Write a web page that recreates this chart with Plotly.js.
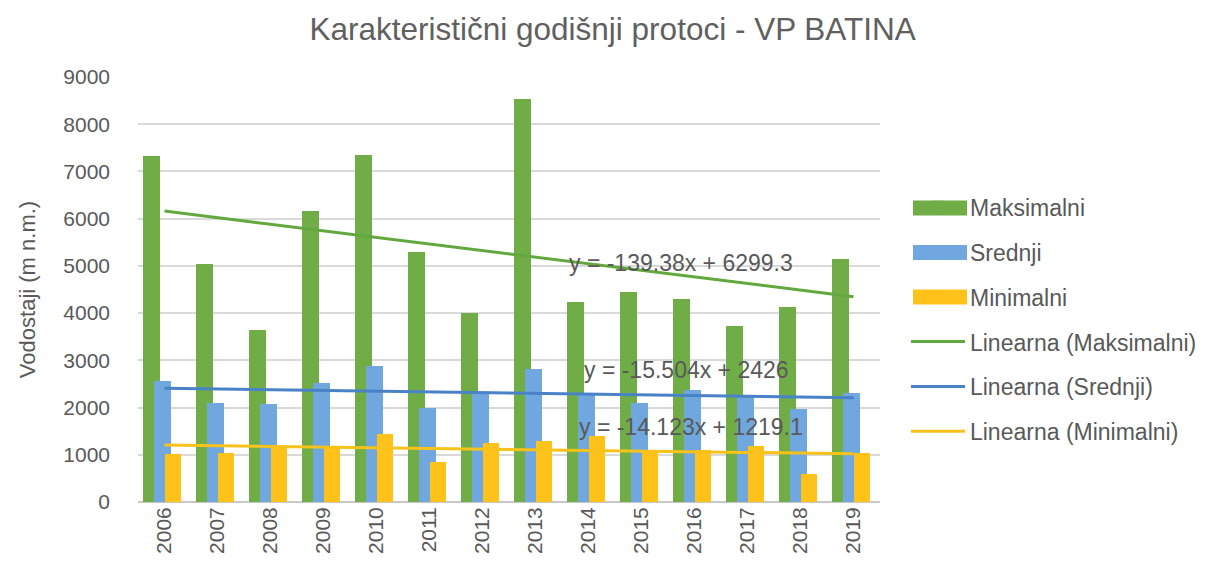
<!DOCTYPE html>
<html>
<head>
<meta charset="utf-8">
<script src="https://cdn.plot.ly/plotly-3.0.1.min.js"></script>
<style>html,body{margin:0;padding:0;background:#fff;}#chart{width:1206px;height:571px;}</style>
</head>
<body>
<div id="chart"></div>
<script>
const years = ['2006','2007','2008','2009','2010','2011','2012','2013','2014','2015','2016','2017','2018','2019'];
const maksimalni = [7320, 5040, 3650, 6170, 7350, 5290, 4000, 8530, 4240, 4450, 4290, 3730, 4140, 5140];
const srednji    = [2570, 2100, 2070, 2520, 2880, 1990, 2300, 2810, 2300, 2090, 2380, 2230, 1960, 2310];
const minimalni  = [1010, 1030, 1180, 1180, 1430, 850, 1240, 1290, 1390, 1100, 1110, 1180, 590, 1040];
const seriesNames = ['Maksimalni', 'Srednji', 'Minimalni'];
const trendNames = ['Linearna (Maksimalni)', 'Linearna (Srednji)', 'Linearna (Minimalni)'];
const trendSlope = [-139.38, -15.504, -14.123];
const trendIntercept = [6299.3, 2426, 1219.1];
const equationLabels = ['y = -139.38x + 6299.3', 'y = -15.504x + 2426', 'y = -14.123x + 1219.1'];
const titleText = 'Karakteristični godišnji protoci - VP BATINA';
const yTitle = 'Vodostaji (m n.m.)';

const barColors = ['#70ad47', '#6fa7de', '#ffc21a'];
const lineColors = ['#62a83e', '#4a82c8', '#f7c21a'];
const barOffsets = [-0.41, -0.2, 0.0];
const barWidth = 0.32;
const values = [maksimalni, srednji, minimalni];
const FONT = '"Liberation Sans", Arial, sans-serif';
const GRAY = '#595959';

const traces = [];
values.forEach((v, i) => {
  traces.push({
    type: 'bar', x: years, y: v, name: seriesNames[i],
    marker: {color: barColors[i]},
    offset: barOffsets[i], width: barWidth,
    legendgroup: 'g' + i, hoverinfo: 'x+y+name'
  });
});
trendSlope.forEach((a, i) => {
  const b = trendIntercept[i];
  traces.push({
    type: 'scatter', mode: 'lines',
    x: [years[0], years[years.length - 1]],
    y: [a * 1 + b, a * years.length + b],
    name: trendNames[i],
    line: {color: lineColors[i], width: 3},
    legendgroup: 't' + i
  });
});

const annotations = equationLabels.map((t, i) => ({
  text: t, xref: 'x', yref: 'y',
  x: [9.74, 9.84, 9.93][i], y: [5060, 2790, 1580][i],
  showarrow: false, font: {family: FONT, size: 23, color: GRAY}
}));

// wide legend swatches for the bar series (paper coords; plot is 742x425 px)
const PL = 138, PB = 502, PW = 742, PH = 425;
const swatchCenters = [208, 252.5, 297];
const shapes = swatchCenters.map((c, i) => ({
  type: 'rect', xref: 'paper', yref: 'paper', layer: 'above',
  x0: (913 - PL) / PW, x1: (967 - PL) / PW,
  y0: (PB - (c + 7.5)) / PH, y1: (PB - (c - 7.5)) / PH,
  fillcolor: barColors[i], line: {width: 0}
}));

const layout = {
  width: 1206, height: 571,
  margin: {l: 138, r: 326, t: 77, b: 69, autoexpand: false},
  paper_bgcolor: '#ffffff', plot_bgcolor: '#ffffff',
  font: {family: FONT, color: GRAY},
  title: {text: titleText, font: {family: FONT, size: 31.5, color: '#606060'},
          xref: 'container', x: 0.508, xanchor: 'center', yref: 'container', y: 0.95, yanchor: 'middle'},
  barmode: 'overlay',
  bargap: 0,
  xaxis: {type: 'category', tickangle: -90, tickfont: {size: 21, color: GRAY},
          showgrid: false, showline: false, zeroline: false, ticks: '', fixedrange: true},
  yaxis: {range: [0, 9000], dtick: 1000, tickfont: {size: 21, color: GRAY},
          gridcolor: '#d9d9d9', gridwidth: 2, zeroline: true, zerolinecolor: '#c8c8c8', zerolinewidth: 2,
          ticks: '', ticklabelstandoff: 27, showline: false,
          title: {text: yTitle, font: {size: 22, color: GRAY}, standoff: 21}},
  legend: {x: 1.035, y: 0.745, xanchor: 'left', yanchor: 'top', traceorder: 'grouped',
           tracegroupgap: 12, itemwidth: 54, font: {family: FONT, size: 23, color: GRAY},
           bgcolor: 'rgba(0,0,0,0)'},
  annotations: annotations,
  shapes: shapes,
  showlegend: true
};

Plotly.newPlot('chart', traces, layout, {displayModeBar: false, staticPlot: true});
</script>
</body>
</html>
